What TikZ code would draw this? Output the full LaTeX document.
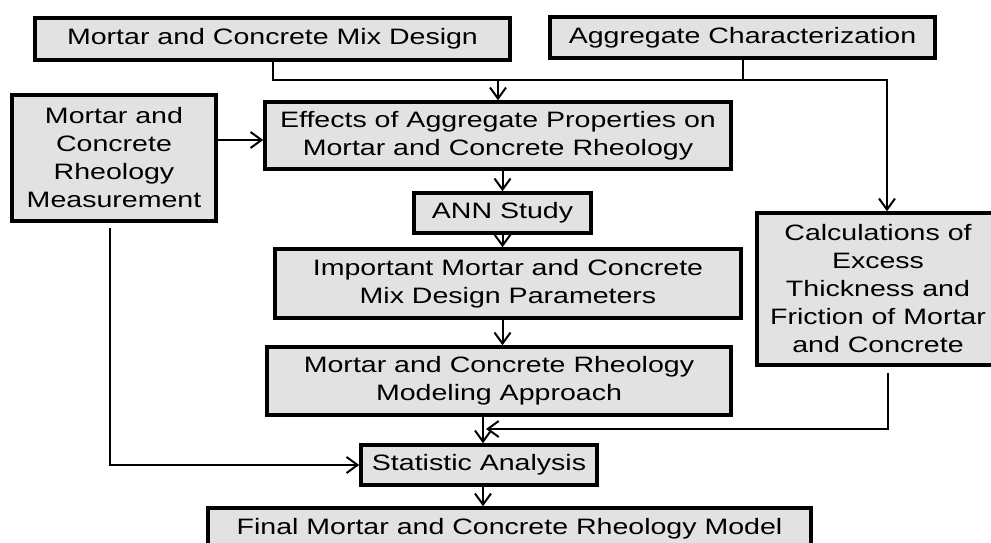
\documentclass[tikz,border=0pt]{standalone}
\usepackage{fontspec}
\setmainfont{Liberation Sans}[FakeStretch=1.28]
\usetikzlibrary{arrows.meta}
\definecolor{boxfill}{HTML}{E2E2E2}
\begin{document}
\begin{tikzpicture}[x=1pt,y=-1pt,
  box/.style={draw=black, line width=3.5pt, fill=boxfill, align=center, inner sep=0pt,
              font=\fontsize{22.3}{28}\selectfont},
  conn/.style={line width=2pt},
  arr/.style={conn,-{Straight Barb[length=11pt,width=16pt]}}]
\clip (0,0) rectangle (991,543);
\node[box, minimum width=475pt, minimum height=42pt] (mix) at (272.5,39) {Mortar and Concrete Mix Design};
\node[box, minimum width=385pt, minimum height=41pt] (agg) at (742.5,37.5) {Aggregate Characterization};
\node[box, minimum width=204pt, minimum height=126pt] (rheo) at (114,158) {Mortar and\\Concrete\\Rheology\\Measurement};
\node[box, minimum width=466pt, minimum height=67pt] (eff) at (498,135.5) {Effects of Aggregate Properties on\\Mortar and Concrete Rheology};
\node[box, minimum width=177pt, minimum height=40pt] (ann) at (502.5,213) {ANN Study};
\node[box, minimum width=466pt, minimum height=69pt] (imp) at (508,283.5) {Important Mortar and Concrete\\Mix Design Parameters};
\node[box, minimum width=464pt, minimum height=68pt] (mod) at (499,381) {Mortar and Concrete Rheology\\Modeling Approach};
\node[box, minimum width=242pt, minimum height=152pt] (calc) at (878,289) {Calculations of\\Excess\\Thickness and\\Friction of Mortar\\and Concrete};
\node[box, minimum width=236pt, minimum height=40pt] (stat) at (479,465) {Statistic Analysis};
\node[box, minimum width=603pt, minimum height=42pt] (final) at (509.5,529) {Final Mortar and Concrete Rheology Model};
% connectors
\coordinate (rt) at (887,80);
\draw[arr] (mix.south) |- (rt) -- (rt |- calc.north);
\draw[conn] (agg.south) -- (agg.south |- rt);
\draw[arr] (eff.north |- rt) -- (eff.north);
\draw[arr] ([yshift=18pt]rheo.east) -- ([yshift=18pt]rheo.east -| eff.west);
\draw[arr] ([xshift=-4pt,yshift=-5pt]rheo.south) |- (stat.west);
\draw[arr] (ann.north |- eff.south) -- (ann.north);
\draw[arr] (ann.south) -- (ann.south |- imp.north);
\draw[arr] (ann.south |- imp.south) -- (ann.south |- mod.north);
\coordinate (sn) at ([xshift=4pt]stat.north);
\draw[arr] (sn |- mod.south) -- (sn);
\coordinate (cb) at ([xshift=10pt,yshift=-6pt]calc.south);
\coordinate (mj) at (486,429);
\draw[arr] (cb) |- (mj);
\draw[arr] (sn |- stat.south) -- (sn |- final.north);
\end{tikzpicture}
\end{document}
